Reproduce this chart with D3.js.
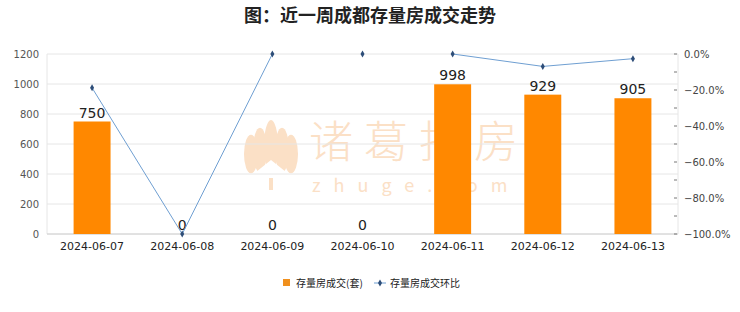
<!DOCTYPE html>
<html>
<head>
<meta charset="utf-8">
<script src="https://cdn.jsdelivr.net/npm/d3@7"></script>
<style>
  body { margin: 0; background: #fff; }
  svg { display: block; font-family: "Noto Sans CJK SC", "DejaVu Sans", sans-serif; }
</style>
</head>
<body>
<svg id="chart" width="740" height="312"></svg>
<script>
const dates = ['2024-06-07', '2024-06-08', '2024-06-09', '2024-06-10', '2024-06-11', '2024-06-12', '2024-06-13'];
const deals = [750, 0, 0, 0, 998, 929, 905];
// week-on-week change, %
const ratio = [-18.8, -100, 0, 0, 0, -6.9, -2.6];
// whether the point joins the line (06-10 has no valid comparison)
const ratioValid = [true, true, true, false, true, true, true];
const leftTicks = [0, 200, 400, 600, 800, 1000, 1200];
const rightTicks = [0, -20, -40, -60, -80, -100];

const svg = d3.select('#chart');
const margin = { top: 54, right: 62, bottom: 78, left: 47 };
const W = 740, H = 312;
const innerW = W - margin.left - margin.right;
const innerH = H - margin.top - margin.bottom;

// title
svg.append('text')
  .attr('x', W / 2).attr('y', 22)
  .attr('text-anchor', 'middle')
  .style('font-size', '18px').style('font-weight', 'bold')
  .attr('fill', '#222')
  .text('图：近一周成都存量房成交走势');

// watermark (under the bars)
const wm = svg.append('g').attr('fill', '#fbe0c6');
const petals = [[-20, 8], [-11, 4], [0, 0], [11, 4], [20, 8]];
petals.forEach(([dx, dy]) => {
  wm.append('ellipse').attr('cx', 271 + dx).attr('cy', 146 + dy).attr('rx', 7).attr('ry', 26 - Math.abs(dx) / 3);
});
wm.append('path').attr('d', 'M256,172 L271,160 L286,172 L286,178 L256,178 Z').attr('fill', '#fff');
wm.append('rect').attr('x', 269).attr('y', 178).attr('width', 4).attr('height', 12);
wm.append('text').attr('x', 309).attr('y', 158)
  .style('font-size', '44px').style('font-weight', '300').style('letter-spacing', '11px').text('诸葛找房');
wm.append('text').attr('x', 312).attr('y', 192)
  .style('font-size', '18px').style('letter-spacing', '13px').text('zhuge.com');

const g = svg.append('g').attr('transform', `translate(${margin.left},${margin.top})`);

// scales
const x = d3.scaleBand().domain(dates).range([0, innerW]).paddingInner(0.59).paddingOuter(0.295);
const yL = d3.scaleLinear().domain([0, 1200]).range([innerH, 0]);
const yR = d3.scaleLinear().domain([-100, 0]).range([innerH, 0]);
const cx = d => x(d) + x.bandwidth() / 2;

// grid
g.selectAll('.grid').data(leftTicks).join('line')
  .attr('x1', 0).attr('x2', innerW)
  .attr('y1', d => yL(d)).attr('y2', d => yL(d))
  .attr('stroke', '#e6e6e6').attr('stroke-width', 1);
g.append('line').attr('x1', 0).attr('x2', 0).attr('y1', 0).attr('y2', innerH).attr('stroke', '#e6e6e6');
g.append('line').attr('x1', innerW).attr('x2', innerW).attr('y1', 0).attr('y2', innerH).attr('stroke', '#e6e6e6');
g.append('line').attr('x1', 0).attr('x2', innerW).attr('y1', innerH).attr('y2', innerH).attr('stroke', '#d0d0d0');

// bars
g.selectAll('.bar').data(dates).join('rect')
  .attr('x', d => x(d))
  .attr('width', x.bandwidth())
  .attr('y', (d, i) => yL(deals[i]))
  .attr('height', (d, i) => innerH - yL(deals[i]))
  .attr('fill', '#ff8800');

// bar labels
g.selectAll('.blabel').data(dates).join('text')
  .attr('x', d => cx(d))
  .attr('y', (d, i) => yL(deals[i]) - 4)
  .attr('text-anchor', 'middle')
  .style('font-size', '14px').attr('fill', '#222')
  .style('font-family', '"DejaVu Sans", sans-serif')
  .text((d, i) => deals[i]);

// left axis labels
g.selectAll('.lt').data(leftTicks).join('text')
  .attr('x', -8).attr('y', d => yL(d)).attr('dy', '0.35em')
  .attr('text-anchor', 'end')
  .style('font-size', '10px').attr('fill', '#555')
  .style('font-family', '"DejaVu Sans", sans-serif')
  .text(d => d);

// right axis ticks and labels
const minor = d3.range(0, -101, -10);
g.selectAll('.rtk').data(minor).join('line')
  .attr('x1', innerW - 4).attr('x2', innerW - 1)
  .attr('y1', d => yR(d)).attr('y2', d => yR(d))
  .attr('stroke', '#777');
g.selectAll('.rt').data(rightTicks).join('text')
  .attr('x', innerW + 6).attr('y', d => yR(d)).attr('dy', '0.35em')
  .style('font-size', '10px').attr('fill', '#444')
  .style('font-family', '"DejaVu Sans", sans-serif')
  .text(d => d3.format('.1f')(d) + '%');

// x labels
g.selectAll('.xl').data(dates).join('text')
  .attr('x', d => cx(d)).attr('y', innerH + 16)
  .attr('text-anchor', 'middle')
  .style('font-size', '11px').attr('fill', '#222')
  .style('font-family', '"DejaVu Sans", sans-serif')
  .text(d => d);

// ratio line
const pts = dates.map((d, i) => ({ x: cx(d), y: yR(ratio[i]), ok: ratioValid[i] }));
g.append('path')
  .datum(pts)
  .attr('fill', 'none').attr('stroke', '#6f9fd2').attr('stroke-width', 1)
  .attr('d', d3.line().defined(d => d.ok).x(d => d.x).y(d => d.y));
const diamond = d3.symbol().type(d3.symbolDiamond).size(14);
g.selectAll('.mk').data(pts).join('path')
  .attr('transform', d => `translate(${d.x},${d.y})`)
  .attr('d', diamond)
  .attr('fill', '#2d4d78');

// legend
const lg = svg.append('g').attr('transform', 'translate(0,283)');
lg.append('rect').attr('x', 283).attr('y', -4).attr('width', 7).attr('height', 7).attr('fill', '#f0901e');
lg.append('text').attr('x', 296).attr('y', 0).attr('dy', '0.35em')
  .style('font-size', '10px').attr('fill', '#222').text('存量房成交(套)');
lg.append('line').attr('x1', 374).attr('x2', 386).attr('y1', 0).attr('y2', 0).attr('stroke', '#6f9fd2');
lg.append('path').attr('transform', 'translate(380,0)').attr('d', diamond).attr('fill', '#2d4d78');
lg.append('text').attr('x', 390).attr('y', 0).attr('dy', '0.35em')
  .style('font-size', '10px').attr('fill', '#222').text('存量房成交环比');
</script>
</body>
</html>
